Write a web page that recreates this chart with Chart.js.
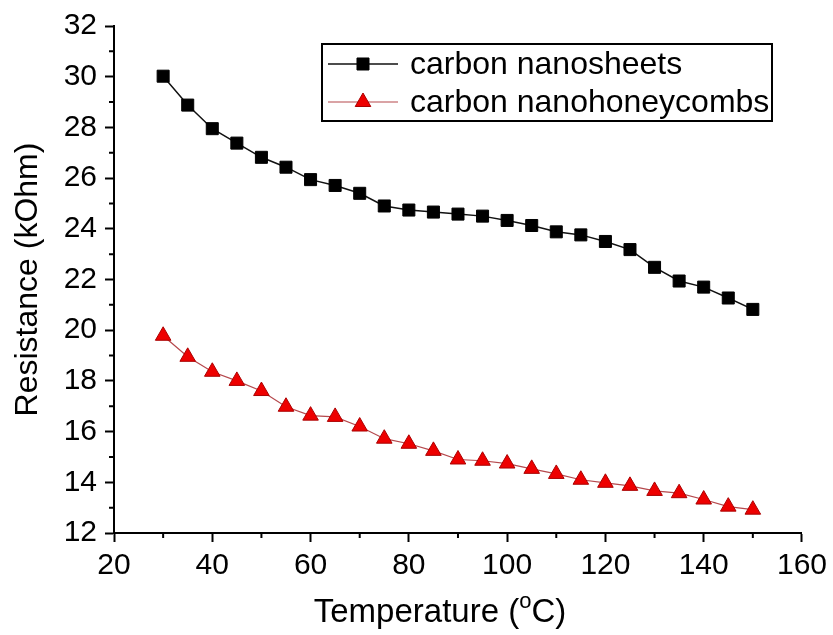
<!DOCTYPE html>
<html>
<head>
<meta charset="utf-8">
<script src="https://cdn.jsdelivr.net/npm/chart.js@4.4.1/dist/chart.umd.min.js"></script>
<style>
  html, body { margin: 0; padding: 0; background: #fff; }
  #wrap { width: 833px; height: 635px; position: relative; }
</style>
</head>
<body>
<div id="wrap"><canvas id="chartLine"></canvas></div>
<script>
// temperature (°C)
const temps = [30, 35, 40, 45, 50, 55, 60, 65, 70, 75, 80, 85, 90, 95, 100, 105, 110, 115, 120, 125, 130, 135, 140, 145, 150];
// resistance (kOhm)
const nanosheets = [30.02, 28.88, 27.95, 27.38, 26.82, 26.43, 25.94, 25.71, 25.4, 24.9, 24.74, 24.66, 24.58, 24.5, 24.33, 24.13, 23.88, 23.76, 23.5, 23.18, 22.48, 21.94, 21.7, 21.27, 20.82];
const nanohoneycombs = [19.78, 18.95, 18.36, 18.0, 17.6, 16.98, 16.63, 16.58, 16.2, 15.72, 15.52, 15.24, 14.9, 14.85, 14.74, 14.53, 14.33, 14.1, 13.98, 13.86, 13.66, 13.57, 13.32, 13.04, 12.92];
const seriesLabels = ["carbon nanosheets", "carbon nanohoneycombs"];
const xTicks = [20, 40, 60, 80, 100, 120, 140, 160];
const yTicks = [12, 14, 16, 18, 20, 22, 24, 26, 28, 30, 32];

const FONT = "'Liberation Sans', Arial, sans-serif";

const toPoints = (xs, ys) => xs.map((x, i) => ({ x: x, y: ys[i] }));

// minor ticks between the labelled ones, drawn outward like the major ones
const minorTicks = {
  id: "minorTicks",
  afterDraw(chart) {
    const ctx = chart.ctx;
    const xs = chart.scales.x;
    const ys = chart.scales.y;
    const area = chart.chartArea;
    ctx.save();
    ctx.strokeStyle = "#000";
    ctx.lineWidth = 2;
    ctx.beginPath();
    for (let i = 0; i < xTicks.length - 1; i++) {
      const px = xs.getPixelForValue((xTicks[i] + xTicks[i + 1]) / 2);
      ctx.moveTo(px, area.bottom);
      ctx.lineTo(px, area.bottom + 5);
    }
    for (let i = 0; i < yTicks.length - 1; i++) {
      const py = ys.getPixelForValue((yTicks[i] + yTicks[i + 1]) / 2);
      ctx.moveTo(area.left, py);
      ctx.lineTo(area.left - 5, py);
    }
    ctx.stroke();
    ctx.restore();
  },
};

// x title with a raised "o" for degrees
const xTitle = {
  id: "xTitle",
  afterDraw(chart) {
    const ctx = chart.ctx;
    const area = chart.chartArea;
    const big = "33px " + FONT;
    const small = "22px " + FONT;
    const parts = [
      { t: "Temperature (", f: big, dy: 0 },
      { t: "o", f: small, dy: -14 },
      { t: "C)", f: big, dy: 0 },
    ];
    ctx.save();
    ctx.fillStyle = "#000";
    ctx.textBaseline = "alphabetic";
    let w = 0;
    parts.forEach((p) => { ctx.font = p.f; w += ctx.measureText(p.t).width; });
    let x = (area.left + area.right) / 2 - w / 2 - 18;
    const y = 622;
    parts.forEach((p) => {
      ctx.font = p.f;
      ctx.fillText(p.t, x, y + p.dy);
      x += ctx.measureText(p.t).width;
    });
    ctx.restore();
  },
};

function drawMarker(ctx, style, r, x, y) {
  if (style === "rect") {
    const s = Math.SQRT1_2 * r;
    ctx.rect(x - s, y - s, 2 * s, 2 * s);
  } else {
    ctx.moveTo(x, y - r);
    ctx.lineTo(x + r * 0.866, y + r / 2);
    ctx.lineTo(x - r * 0.866, y + r / 2);
    ctx.closePath();
  }
}

// boxed legend with line + marker samples
const boxLegend = {
  id: "boxLegend",
  afterDraw(chart) {
    const ctx = chart.ctx;
    const box = { x: 322, y: 44, w: 450, h: 77 };
    ctx.save();
    ctx.fillStyle = "#fff";
    ctx.fillRect(box.x, box.y, box.w, box.h);
    ctx.strokeStyle = "#000";
    ctx.lineWidth = 2;
    ctx.strokeRect(box.x, box.y, box.w, box.h);
    ctx.font = "32px " + FONT;
    ctx.textBaseline = "middle";
    chart.data.datasets.forEach((ds, i) => {
      const cy = box.y + 20 + i * 38;
      ctx.strokeStyle = ds.borderColor;
      ctx.lineWidth = ds.borderWidth;
      ctx.beginPath();
      ctx.moveTo(box.x + 6, cy);
      ctx.lineTo(box.x + 76, cy);
      ctx.stroke();
      ctx.fillStyle = ds.pointBackgroundColor;
      ctx.strokeStyle = ds.pointBorderColor;
      ctx.lineWidth = 1;
      ctx.beginPath();
      drawMarker(ctx, ds.pointStyle, ds.pointRadius, box.x + 41, cy);
      ctx.fill();
      ctx.stroke();
      ctx.fillStyle = "#000";
      ctx.fillText(ds.label, box.x + 88, cy + 1);
    });
    ctx.restore();
  },
};

const data = {
  datasets: [
    {
      label: seriesLabels[0],
      data: toPoints(temps, nanosheets),
      borderColor: "#111",
      borderWidth: 1.5,
      pointStyle: "rect",
      pointRadius: 8.5,
      pointBackgroundColor: "#000",
      pointBorderColor: "#000",
      pointBorderWidth: 1,
    },
    {
      label: seriesLabels[1],
      data: toPoints(temps, nanohoneycombs),
      borderColor: "#b5484c",
      borderWidth: 1.2,
      pointStyle: "triangle",
      pointRadius: 9,
      pointBackgroundColor: "#ee0000",
      pointBorderColor: "#aa0000",
      pointBorderWidth: 1,
    },
  ],
};

const config = {
  type: "line",
  data,
  options: {
    responsive: true,
    maintainAspectRatio: false,
    animation: false,
    layout: { padding: { left: 0, right: 27, top: 25, bottom: 0 } },
    plugins: { legend: { display: false }, tooltip: { enabled: false } },
    scales: {
      x: {
        type: "linear",
        min: 20,
        max: 160,
        afterFit: (s) => { s.height = 102; },
        afterBuildTicks: (s) => { s.ticks = xTicks.map((v) => ({ value: v })); },
        border: { display: true, color: "#000", width: 2 },
        grid: { drawOnChartArea: false, drawTicks: true, tickLength: 9, tickColor: "#000", tickWidth: 2 },
        ticks: { color: "#000", padding: 6, maxRotation: 0, font: { family: FONT, size: 30 } },
      },
      y: {
        type: "linear",
        min: 12,
        max: 32,
        afterFit: (s) => { s.width = 114; },
        afterBuildTicks: (s) => { s.ticks = yTicks.map((v) => ({ value: v })); },
        border: { display: true, color: "#000", width: 2 },
        grid: { drawOnChartArea: false, drawTicks: true, tickLength: 9, tickColor: "#000", tickWidth: 2 },
        ticks: { color: "#000", padding: 8, font: { family: FONT, size: 30 } },
        title: {
          display: true,
          text: "Resistance (kOhm)",
          color: "#000",
          font: { family: FONT, size: 32 },
          padding: { top: 9, bottom: 0 },
        },
      },
    },
  },
  plugins: [minorTicks, xTitle, boxLegend],
};

new Chart(document.getElementById("chartLine"), config);
</script>
</body>
</html>
